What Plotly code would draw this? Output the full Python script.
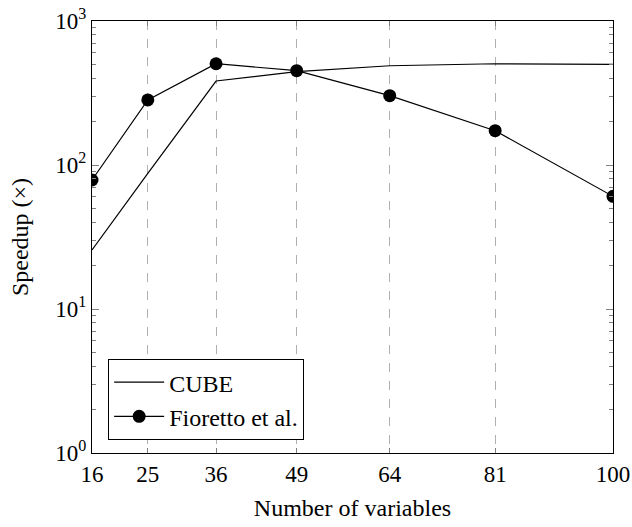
import plotly.graph_objects as go

x_vals = [16, 25, 36, 49, 64, 81, 100]
cube = [25.7, 87.5, 383, 445, 489, 505, 500]
fioretto = [78.7, 283, 505, 452, 303, 173, 60.6]
x_ticks = [16, 25, 36, 49, 64, 81, 100]
y_ticks = [1, 10, 100, 1000]
y_labels = ["10<sup>0</sup>", "10<sup>1</sup>", "10<sup>2</sup>", "10<sup>3</sup>"]
minor_y = [m * d for d in [1, 10, 100] for m in range(2, 10)]

FONT = "Liberation Serif"

fig = go.Figure()
fig.add_trace(go.Scatter(x=x_vals, y=cube, mode="lines", name="CUBE",
                         line=dict(color="black", width=1.2)))
fig.add_trace(go.Scatter(x=x_vals, y=fioretto, mode="lines+markers", name="Fioretto et al.",
                         line=dict(color="black", width=1.2),
                         marker=dict(color="black", size=13, symbol="circle")))

fig.update_layout(
    width=632, height=527,
    margin=dict(l=92, r=19, t=21, b=74, autoexpand=False),
    plot_bgcolor="white", paper_bgcolor="white",
    font=dict(family=FONT, size=24, color="black"),
    showlegend=True,
    legend=dict(x=0.031, y=0.03, xanchor="left", yanchor="bottom",
                bgcolor="white", bordercolor="black", borderwidth=1,
                itemwidth=50, entrywidth=198, entrywidthmode="pixels",
                font=dict(family=FONT, size=24), tracegroupgap=0),
)
fig.update_xaxes(
    range=[16, 100], tickvals=x_ticks, ticktext=[str(v) for v in x_ticks],
    automargin=False,
    showgrid=True, gridcolor="#b0b0b0", griddash="dash", gridwidth=1,
    showline=True, linecolor="black", linewidth=1, mirror="ticks",
    ticks="inside", ticklen=5, tickcolor="#808080",
    zeroline=False,
    title=dict(text="Number of variables", font=dict(family=FONT, size=24), standoff=13),
    tickfont=dict(family=FONT, size=23),
)
fig.update_yaxes(
    type="log", range=[0, 3], tickvals=y_ticks, ticktext=y_labels,
    automargin=False,
    showgrid=False,
    showline=True, linecolor="black", linewidth=1, mirror="ticks",
    ticks="inside", ticklen=7, tickcolor="#808080",
    minor=dict(tickvals=minor_y, ticks="inside", ticklen=4, tickcolor="#808080", showgrid=False),
    title=dict(text="Speedup (×)", font=dict(family=FONT, size=24), standoff=19),
    tickfont=dict(family=FONT, size=23),
)

fig.write_html("out.html")
